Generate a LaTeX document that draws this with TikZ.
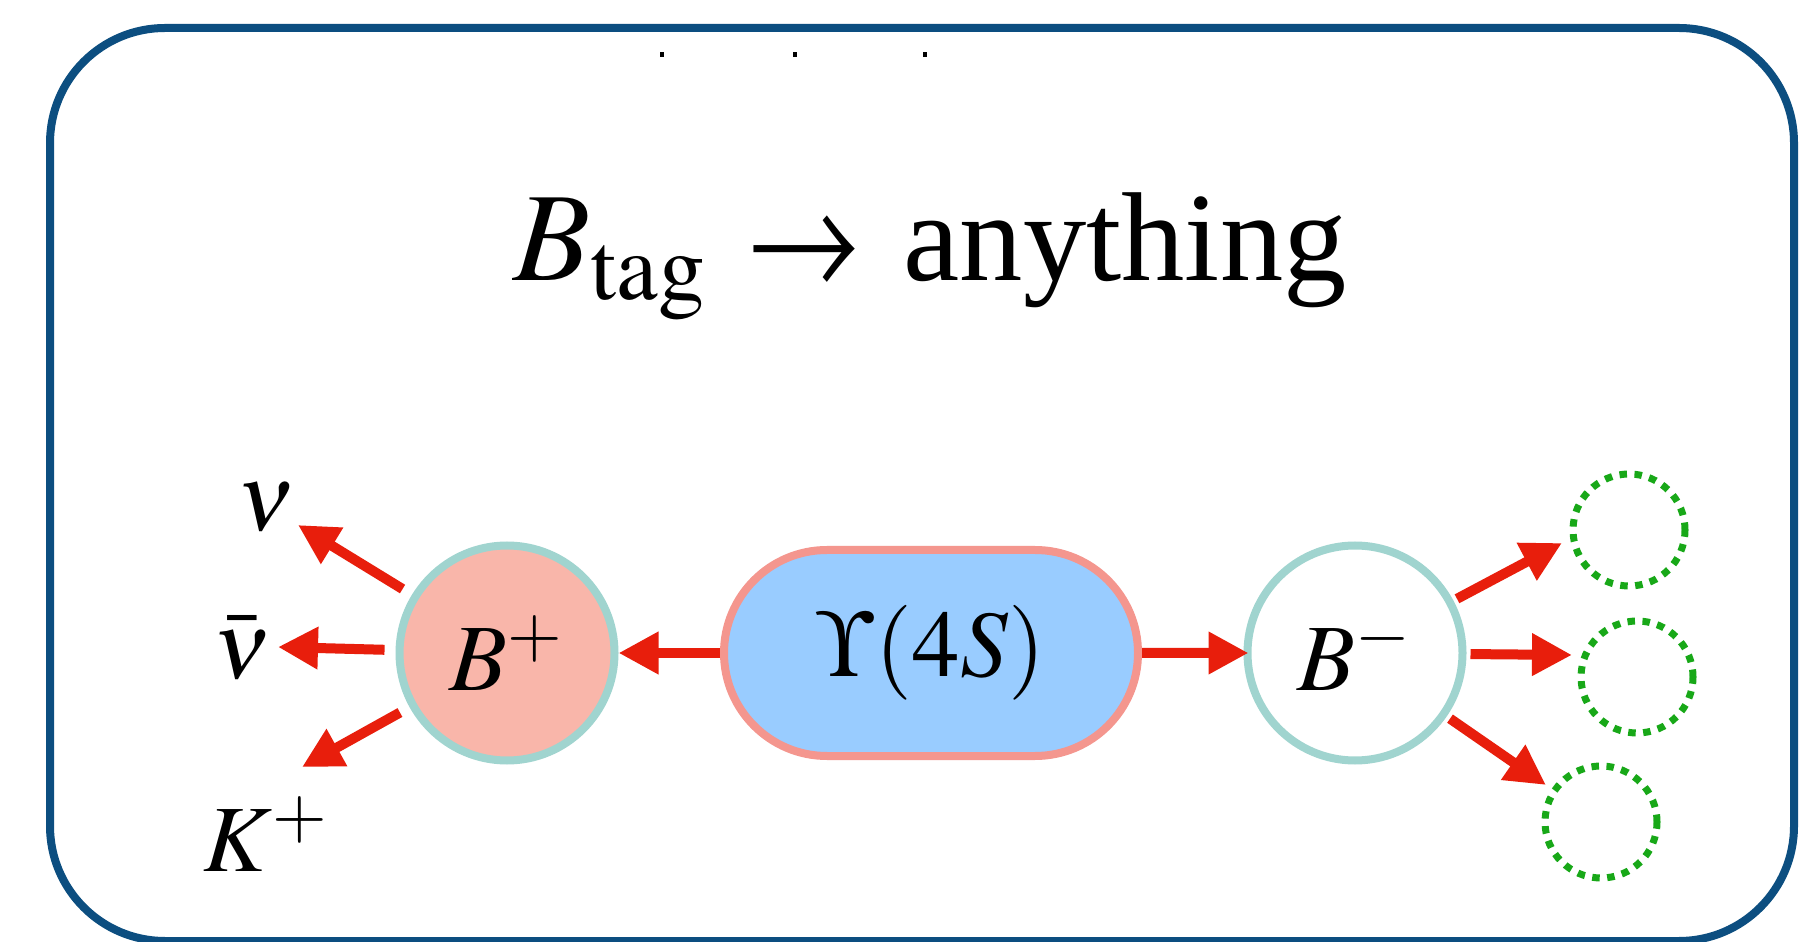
\documentclass[tikz,border=0pt]{standalone}
\usepackage{mathptmx}
\usepackage{pifont}
\usepackage{graphicx}
\usepackage[no-math]{fontspec}
\setmainfont{Liberation Serif}
\usetikzlibrary{arrows.meta,shapes.misc}

\definecolor{frameblue}{RGB}{12,78,128}
\definecolor{decayred}{RGB}{232,30,12}
\definecolor{ringteal}{RGB}{160,212,207}
\definecolor{bplusfill}{RGB}{249,182,170}
\definecolor{upsfill}{RGB}{153,204,255}
\definecolor{upsline}{RGB}{244,150,142}
\definecolor{dotgreen}{RGB}{24,168,24}

\begin{document}
\begin{tikzpicture}[x=1cm, y=1cm,
    decay/.style={draw=decayred, line width=0.10cm, -{Triangle[length=0.40cm, width=0.40cm]}},
    meson/.style={circle, draw=ringteal, line width=0.08cm, minimum size=2.15cm, inner sep=0pt, font=\fontsize{27}{32}\selectfont},
    blob/.style={circle, draw=dotgreen, line width=0.07cm, dash pattern=on 0.075cm off 0.075cm, minimum size=1.12cm},
    lbl/.style={inner sep=0pt, font=\fontsize{27}{32}\selectfont}]
    \useasboundingbox (0,0) rectangle (17.99,9.41);
    \fill[white] (0,0) rectangle (17.99,9.41);

    % 外框
    \draw[frameblue, line width=0.08cm, rounded corners=1.15cm] (0.50,0.00) rectangle (17.94,9.13);
    \fill (6.60,8.84) rectangle +(0.035,0.05);
    \fill (7.93,8.84) rectangle +(0.035,0.05);
    \fill (9.23,8.84) rectangle +(0.035,0.05);

    % 标题
    \node[anchor=base, inner sep=0pt, font=\fontsize{36}{43}\selectfont] (title) at (9.30,6.60)
        {$B_{\mathrm{tag}}$\hspace{0.42cm}\scalebox{0.88}[1]{\Pisymbol{psy}{174}}\hspace{0.45cm}anything};

    % 粒子
    \node[meson, fill=bplusfill] (bp) at (5.07,2.88) {$B^+$};
    \node[rounded rectangle, draw=upsline, fill=upsfill, line width=0.08cm,
        minimum width=4.14cm, minimum height=2.06cm, inner sep=0pt,
        font=\fontsize{27}{32}\selectfont] (ups) at (9.31,2.88) {$\Upsilon(4S)$};
    \node[meson, fill=white] (bm) at (13.55,2.88) {$B^-$};

    % 末态
    \node[lbl] (nu) at (2.66,4.34) {$\nu$};
    \node[lbl] (nubar) at (2.42,2.93) {$\bar{\nu}$};
    \node[lbl] (kp) at (2.66,1.07) {$K^+$};
    \node[blob] (x1) at (16.29,4.11) {};
    \node[blob] (x2) at (16.37,2.64) {};
    \node[blob] (x3) at (16.01,1.19) {};

    % 箭头端点
    \coordinate (nutip) at (2.98,4.16);
    \coordinate (nubartip) at (2.78,2.94);
    \coordinate (kptip) at (3.02,1.74);
    \coordinate (x1tip) at (15.62,3.98);
    \coordinate (x2tip) at (15.72,2.86);
    \coordinate (x3tip) at (15.46,1.56);

    % 衰变
    \draw[decay] (ups) -- (bp);
    \draw[decay, shorten >=-0.05cm] (ups) -- (bm);
    \draw[decay, shorten <=0.11cm] (bp) -- (nutip);
    \draw[decay, shorten <=0.11cm] (bp) -- (nubartip);
    \draw[decay, shorten <=0.11cm] (bp) -- (kptip);
    \draw[decay, shorten <=0.04cm] (bm) -- (x1tip);
    \draw[decay, shorten <=0.04cm] (bm) -- (x2tip);
    \draw[decay, shorten <=0.04cm] (bm) -- (x3tip);
\end{tikzpicture}
\end{document}
